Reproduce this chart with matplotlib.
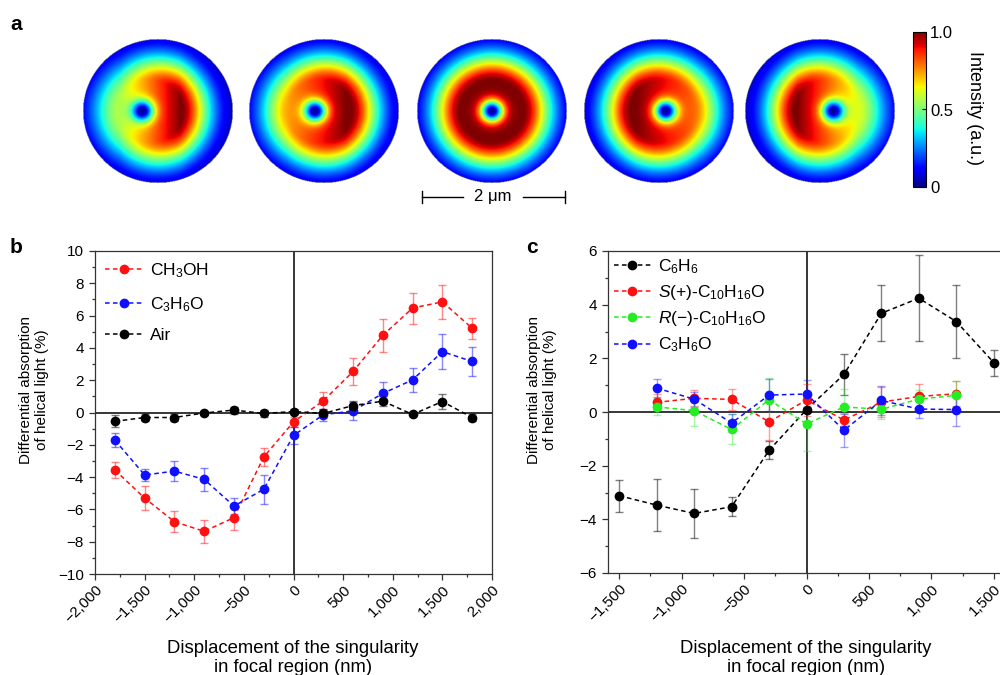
import numpy as np
import matplotlib
matplotlib.use("Agg")
import matplotlib.pyplot as plt
from matplotlib.lines import Line2D
from matplotlib.ticker import MultipleLocator, FuncFormatter

plt.rcParams['font.family'] = ['Liberation Sans', 'DejaVu Sans']
plt.rcParams['mathtext.fontset'] = 'custom'
plt.rcParams['mathtext.rm'] = 'Liberation Sans'
plt.rcParams['mathtext.it'] = 'Liberation Sans:italic'

# --- panel a: singularity offsets (fraction of the disc radius)
singularity_shift = [-0.21, -0.12, 0.0, 0.09, 0.18]
disc_centres_px = [158, 324, 492, 659, 820]

# --- panel b
x_b = [-1800, -1500, -1200, -900, -600, -300, 0, 300, 600, 900, 1200, 1500, 1800]
ch3oh = [-3.56, -5.30, -6.76, -7.36, -6.51, -2.76, -0.58, 0.72, 2.54, 4.78, 6.47, 6.85, 5.22]
ch3oh_err = [0.49, 0.72, 0.63, 0.70, 0.75, 0.57, 0.30, 0.52, 0.86, 1.04, 0.96, 1.06, 0.66]
c3h6o_b = [-1.71, -3.87, -3.63, -4.14, -5.79, -4.76, -1.42, -0.14, 0.10, 1.18, 2.02, 3.77, 3.16]
c3h6o_b_err = [0.43, 0.38, 0.61, 0.70, 0.49, 0.90, 0.52, 0.36, 0.57, 0.68, 0.74, 1.07, 0.89]
air = [-0.55, -0.31, -0.31, -0.03, 0.15, -0.06, 0.06, -0.06, 0.43, 0.70, -0.12, 0.68, -0.31]
air_err = [0.37, 0.20, 0.22, 0.15, 0.22, 0.22, 0.18, 0.20, 0.26, 0.30, 0.12, 0.45, 0.20]

# --- panel c
x_c6h6 = [-1500, -1200, -900, -600, -300, 0, 300, 600, 900, 1200, 1500]
c6h6 = [-3.12, -3.47, -3.78, -3.53, -1.43, 0.09, 1.40, 3.68, 4.24, 3.37, 1.84]
c6h6_err = [0.60, 0.96, 0.90, 0.36, 0.34, 0.10, 0.76, 1.04, 1.60, 1.36, 0.48]
x_c = [-1200, -900, -600, -300, 0, 300, 600, 900, 1200]
s_camphor = [0.36, 0.51, 0.47, -0.37, 0.45, -0.30, 0.37, 0.58, 0.68]
s_camphor_err = [0.30, 0.30, 0.38, 0.69, 0.60, 0.25, 0.55, 0.45, 0.47]
r_camphor = [0.19, 0.05, -0.65, 0.46, -0.45, 0.19, 0.10, 0.48, 0.62]
r_camphor_err = [0.32, 0.56, 0.56, 0.80, 1.02, 0.68, 0.37, 0.34, 0.53]
c3h6o_c = [0.89, 0.48, -0.41, 0.63, 0.67, -0.68, 0.43, 0.11, 0.09]
c3h6o_c_err = [0.33, 0.28, 0.33, 0.60, 0.53, 0.62, 0.55, 0.34, 0.60]

W, H = 1000, 675
fig = plt.figure(figsize=(W / 100, H / 100), dpi=100)


def px_axes(x0, y0, x1, y1):
    # axes from pixel box (top-left origin)
    return fig.add_axes([x0 / W, 1 - y1 / H, (x1 - x0) / W, (y1 - y0) / H])


def focal_intensity(u, v, shift):
    # doughnut focus with a displaced phase singularity
    sgn = -1.0 if shift > 0 else 1.0
    a = -abs(shift)
    uu = u * sgn
    rc = np.hypot(uu - a / 2, v)
    env = np.exp(-(np.clip(rc - 0.42, 0, None) / 0.38) ** 1.8)
    d = np.hypot(uu - a, v)
    hole = 1 - np.exp(-(d / 0.15) ** 2)
    tilt = 1 + (-3.1 * a) * np.clip(uu, -0.5, 0.3)
    I = env * hole * tilt
    return I / I.max()


n = 301
g = np.linspace(-1, 1, n)
U, V = np.meshgrid(g, g)
outside = U ** 2 + V ** 2 > 1
for cx, sh in zip(disc_centres_px, singularity_shift):
    ax = px_axes(cx - 75, 39, cx + 75, 183)
    I = focal_intensity(U, V, sh)
    I = np.ma.masked_where(outside, I)
    im = ax.imshow(I, cmap='jet', vmin=0, vmax=1, extent=[-1, 1, -1, 1],
                   origin='lower', aspect='auto', interpolation='bilinear')
    ax.axis('off')

cax = px_axes(913, 32, 926, 187)
cb = fig.colorbar(im, cax=cax, ticks=[0, 0.5, 1.0])
cb.ax.set_yticklabels(['0', '0.5', '1.0'])
cb.ax.tick_params(labelsize=12, length=3, direction='in', pad=3)
cb.outline.set_linewidth(0.8)
fig.text(0.975, 1 - 108 / H, 'Intensity (a.u.)', rotation=270,
         ha='center', va='center', fontsize=13)

# scale bar
sb_y = 1 - 197 / H
for xa, xb in [(422, 463), (523, 565)]:
    fig.add_artist(Line2D([xa / W, xb / W], [sb_y, sb_y], color='k', lw=1))
for xe in (422, 565):
    fig.add_artist(Line2D([xe / W, xe / W], [sb_y - 6 / H, sb_y + 6 / H], color='k', lw=1))
fig.text(493 / W, sb_y, '2 \u03bcm', ha='center', va='center', fontsize=12)


def thousands(x, pos):
    return f"{int(round(x)):,}".replace('-', '\u2212')


def style_axes(ax, ylim, xlim):
    ax.set_xlim(*xlim)
    ax.set_ylim(*ylim)
    ax.axhline(0, color='k', lw=1.1, zorder=1)
    ax.axvline(0, color='k', lw=1.1, zorder=1)
    ax.xaxis.set_major_locator(MultipleLocator(500))
    ax.xaxis.set_minor_locator(MultipleLocator(250))
    ax.xaxis.set_major_formatter(FuncFormatter(thousands))
    ax.yaxis.set_major_locator(MultipleLocator(2))
    ax.yaxis.set_minor_locator(MultipleLocator(1))
    ax.tick_params(which='major', length=4.5, width=0.9, labelsize=11, color='#333333')
    ax.tick_params(which='minor', length=2.5, width=0.9, color='#333333')
    ax.tick_params(axis='x', pad=2)
    for lab in ax.get_xticklabels():
        lab.set_rotation(45)
        lab.set_ha('right')
        lab.set_va('top')
        lab.set_rotation_mode('anchor')
    for sp in ax.spines.values():
        sp.set_color('#333333')
        sp.set_linewidth(0.9)


def series(ax, x, y, err, color, label, err_alpha=0.5):
    ax.errorbar(x, y, yerr=err, fmt='none', ecolor=color, alpha=err_alpha,
                elinewidth=1, capsize=2.6, capthick=1, zorder=2)
    ax.plot(x, y, ls=(0, (3, 2.2)), lw=1.1, color=color, marker='o',
            markersize=6, label=label, zorder=3)


# --- panel b
axb = px_axes(95, 251, 492, 574)
series(axb, x_b, ch3oh, ch3oh_err, '#ff1010', r'CH$_3$OH')
series(axb, x_b, c3h6o_b, c3h6o_b_err, '#1010ff', r'C$_3$H$_6$O')
series(axb, x_b, air, air_err, 'black', 'Air')
style_axes(axb, (-10, 10), (-2000, 2000))
axb.legend(loc='upper left', bbox_to_anchor=(0.0, 1.0), frameon=False,
           fontsize=12.5, handlelength=2.1, handletextpad=0.45,
           labelspacing=0.85, borderaxespad=0.2, borderpad=0.4)

# --- panel c
axc = px_axes(608, 251, 1005, 573)
series(axc, x_c6h6, c6h6, c6h6_err, 'black', r'C$_6$H$_6$')
series(axc, x_c, s_camphor, s_camphor_err, '#ff1010',
       r'$\mathit{S}$(+)-C$_{10}$H$_{16}$O', err_alpha=0.4)
series(axc, x_c, r_camphor, r_camphor_err, '#22ee22',
       '$\\mathit{R}$(\u2212)-C$_{10}$H$_{16}$O', err_alpha=0.4)
series(axc, x_c, c3h6o_c, c3h6o_c_err, '#1010ff', r'C$_3$H$_6$O', err_alpha=0.4)
style_axes(axc, (-6, 6), (-1590, 1590))
axc.legend(loc='upper left', bbox_to_anchor=(0.0, 1.0), frameon=False,
           fontsize=12.5, handlelength=2.1, handletextpad=0.45,
           labelspacing=0.42, borderaxespad=0.0, borderpad=0.35)

# axis titles
ylab = 'Differential absorption\nof helical light (%)'
fig.text(34 / W, 1 - 390 / H, ylab, rotation=90, ha='center', va='center',
         fontsize=11, linespacing=1.2)
fig.text(542 / W, 1 - 390 / H, ylab, rotation=90, ha='center', va='center',
         fontsize=11, linespacing=1.2)
xlab = 'Displacement of the singularity\nin focal region (nm)'
fig.text(293 / W, 1 - 658 / H, xlab, ha='center', va='center', fontsize=13.3,
         linespacing=1.1)
fig.text(806 / W, 1 - 658 / H, xlab, ha='center', va='center', fontsize=13.3,
         linespacing=1.1)

# panel letters
fig.text(10 / W, 1 - 30 / H, 'a', fontsize=15, fontweight='bold')
fig.text(10 / W, 1 - 253 / H, 'b', fontsize=15, fontweight='bold')
fig.text(526 / W, 1 - 253 / H, 'c', fontsize=15, fontweight='bold')

fig.savefig('out.png', dpi=100)
